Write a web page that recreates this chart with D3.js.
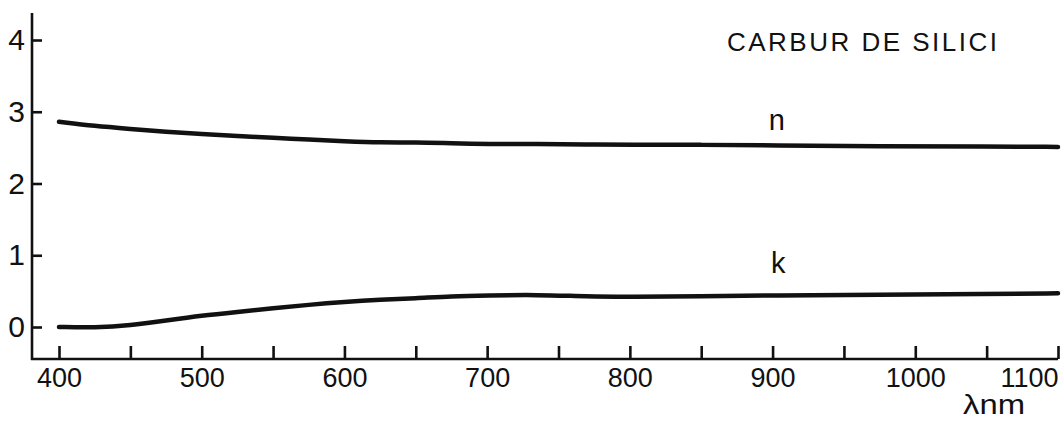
<!DOCTYPE html>
<html>
<head>
<meta charset="utf-8">
<script src="https://cdn.jsdelivr.net/npm/d3@7"></script>
<style>
  html, body { margin: 0; padding: 0; background: #fff; }
  svg { display: block; }
  text { font-family: "Liberation Sans", Arial, sans-serif; fill: #111; }
</style>
</head>
<body>
<svg id="chart" width="1063" height="424"></svg>
<script>
// ---- data ----
const wavelengths = [400, 425, 450, 475, 500, 525, 550, 575, 600, 625, 650, 675, 700, 735, 770, 800, 850, 900, 975, 1050, 1100];
const nValues     = [2.86, 2.80, 2.76, 2.72, 2.69, 2.66, 2.64, 2.61, 2.59, 2.57, 2.575, 2.56, 2.55, 2.55, 2.545, 2.54, 2.54, 2.53, 2.52, 2.515, 2.51];
const kValues     = [0.00, -0.01, 0.02, 0.09, 0.16, 0.21, 0.26, 0.31, 0.35, 0.38, 0.40, 0.43, 0.44, 0.45, 0.425, 0.42, 0.43, 0.44, 0.45, 0.46, 0.47];
const xTicks = [400, 450, 500, 550, 600, 650, 700, 750, 800, 850, 900, 950, 1000, 1050, 1100];
const xTickLabels = ["400", "", "500", "", "600", "", "700", "", "800", "", "900", "", "1000", "", "1100"];
const yTicks = [0, 1, 2, 3, 4];
const yTickLabels = ["0", "1", "2", "3", "4"];
const title = "CARBUR DE SILICI";
const xAxisTitle = "λnm";
const seriesLabels = ["n", "k"];

// ---- layout ----
const FONT = "'Liberation Sans', Arial, sans-serif";
const svg = d3.select("#chart");
const x = d3.scaleLinear().domain([400, 1100]).range([59, 1058]);
const y = d3.scaleLinear().domain([0, 4]).range([327, 40]);
const axisX = 32;      // y axis line position
const axisY = 359;     // x axis line position

const ink = "#111";

// axis lines
svg.append("line")
  .attr("x1", axisX).attr("x2", axisX)
  .attr("y1", 13).attr("y2", axisY + 1)
  .attr("stroke", ink).attr("stroke-width", 2.6);
svg.append("line")
  .attr("x1", axisX - 1).attr("x2", x.range()[1])
  .attr("y1", axisY).attr("y2", axisY)
  .attr("stroke", ink).attr("stroke-width", 2.6);

// y axis (ticks pointing inward)
const gy = svg.append("g")
  .attr("transform", `translate(${axisX},0)`)
  .call(d3.axisLeft(y)
    .tickValues(yTicks)
    .tickFormat((d, i) => yTickLabels[i])
    .tickSizeInner(-10).tickSizeOuter(0).tickPadding(7));
gy.select(".domain").remove();
gy.selectAll(".tick line").attr("stroke", ink).attr("stroke-width", 2.6);
gy.selectAll(".tick text").attr("font-size", 30).attr("fill", ink).style("font-family", FONT);

// x axis (ticks pointing up)
const gx = svg.append("g")
  .attr("transform", `translate(0,${axisY})`)
  .call(d3.axisBottom(x)
    .tickValues(xTicks)
    .tickFormat((d, i) => xTickLabels[i])
    .tickSizeInner(-13).tickSizeOuter(0).tickPadding(9));
gx.select(".domain").remove();
gx.selectAll(".tick line").attr("stroke", ink).attr("stroke-width", 2.6);
gx.selectAll(".tick text").attr("font-size", 27).attr("fill", ink).style("font-family", FONT);
// last label sits left of its tick, as in the reference
gx.selectAll(".tick text").filter(d => d === 1100).attr("text-anchor", "end").attr("x", 0);

// curves
const line = d3.line()
  .x(d => x(d[0]))
  .y(d => y(d[1]))
  .curve(d3.curveBasis);

[nValues, kValues].forEach(vals => {
  svg.append("path")
    .datum(wavelengths.map((w, i) => [w, vals[i]]))
    .attr("d", line)
    .attr("fill", "none")
    .attr("stroke", ink)
    .attr("stroke-width", 4.5)
    .attr("stroke-linecap", "round")
    .attr("stroke-linejoin", "round");
});

// series labels
svg.append("text").attr("x", x(903)).attr("y", y(2.75))
  .attr("text-anchor", "middle").attr("font-size", 29).text(seriesLabels[0]);
svg.append("text").attr("x", x(904)).attr("y", y(0.75))
  .attr("text-anchor", "middle").attr("font-size", 29).text(seriesLabels[1]);

// title
svg.append("text").attr("x", 727).attr("y", 51)
  .attr("font-size", 26)
  .attr("textLength", 270).attr("lengthAdjust", "spacing")
  .text(title);

// x axis title
svg.append("text").attr("x", 963).attr("y", 414)
  .attr("font-size", 28)
  .attr("textLength", 62).attr("lengthAdjust", "spacingAndGlyphs")
  .text(xAxisTitle);
</script>
</body>
</html>
